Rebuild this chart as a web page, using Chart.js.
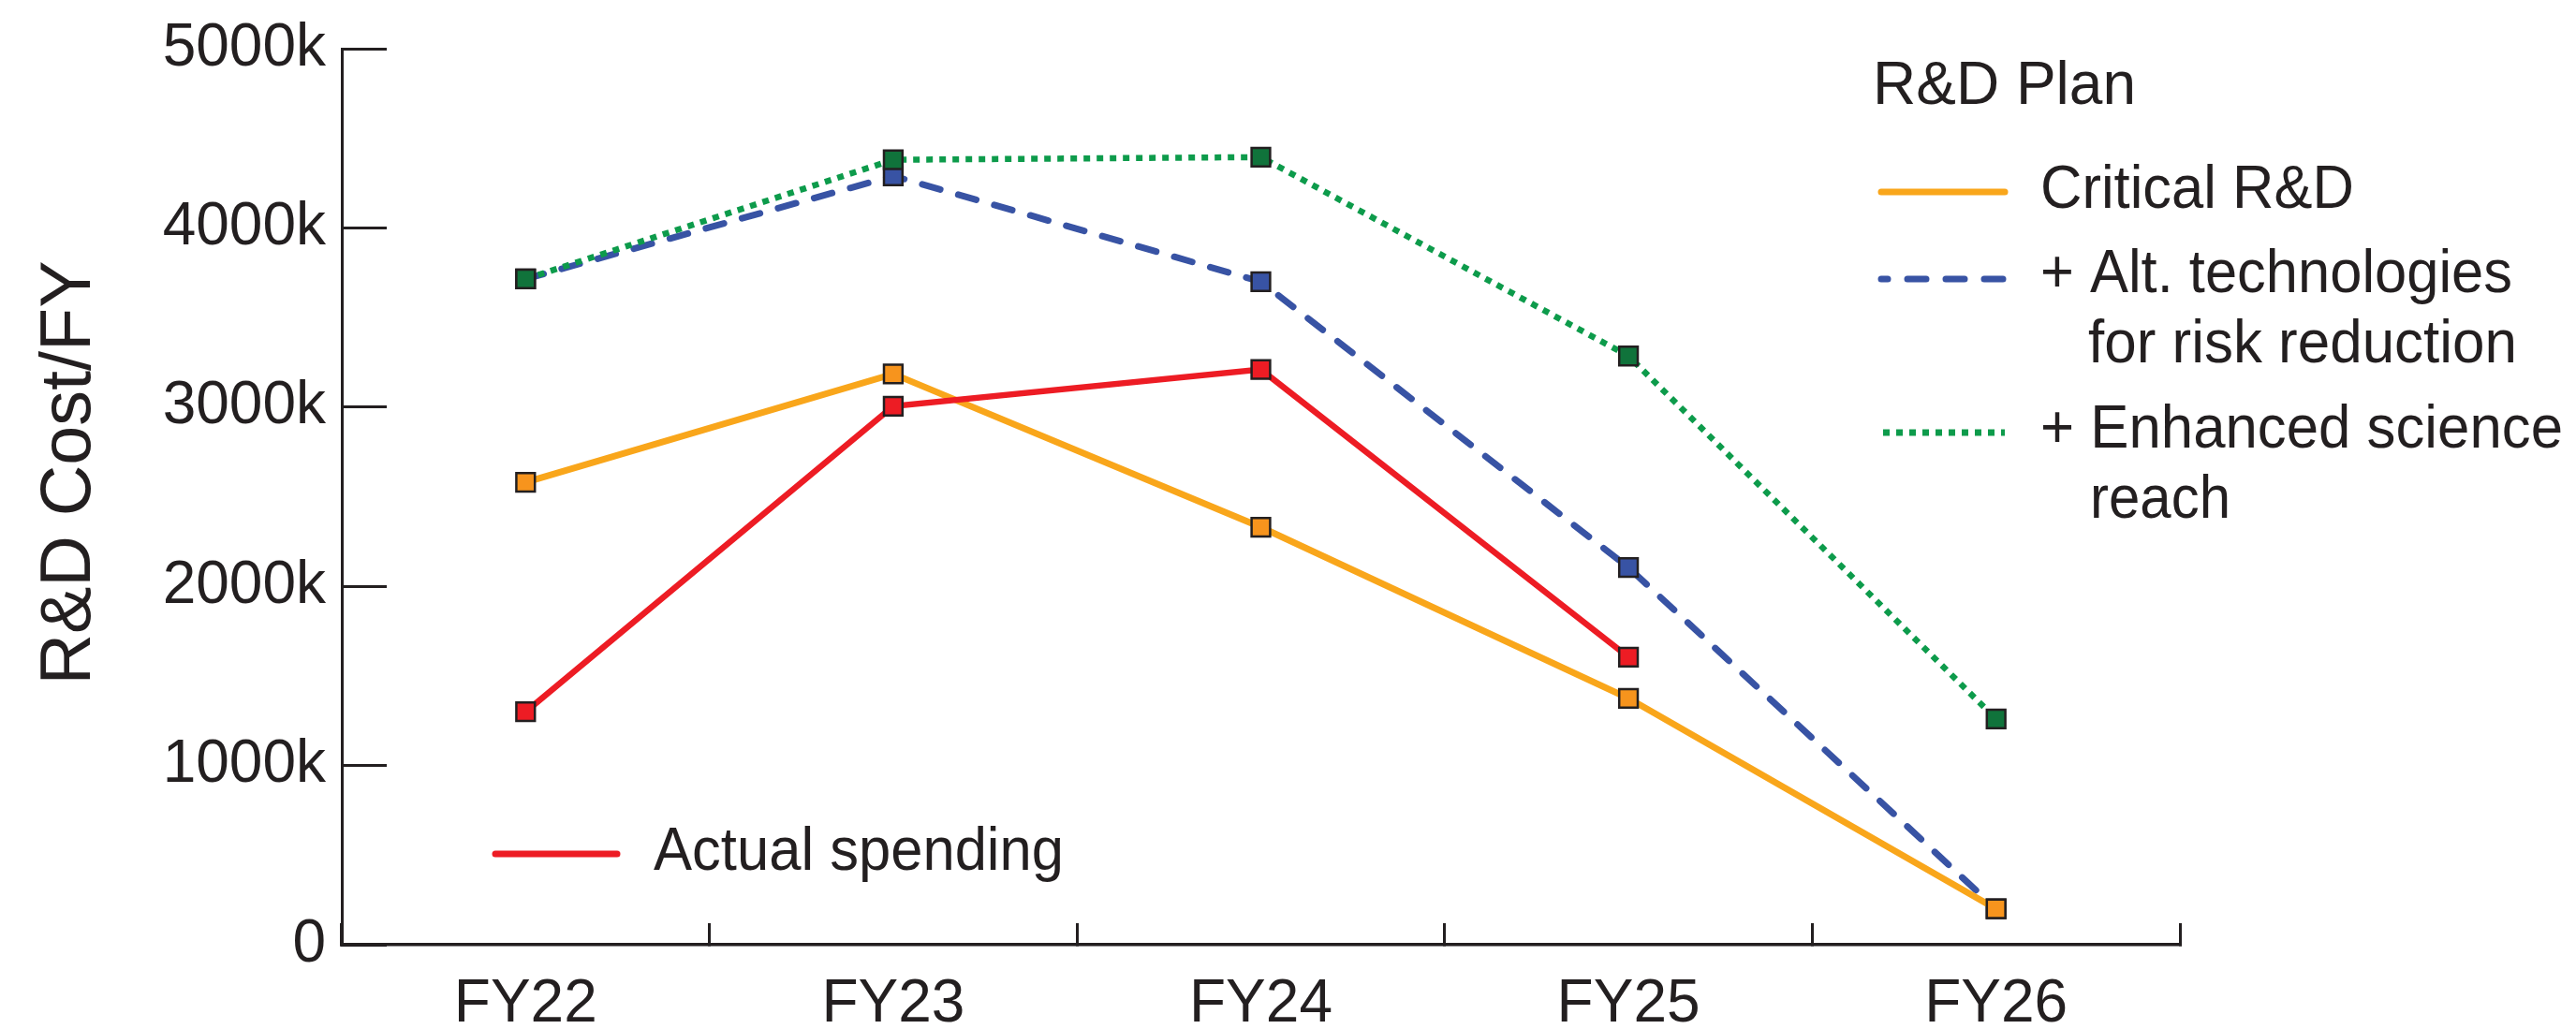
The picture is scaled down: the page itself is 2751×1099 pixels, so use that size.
<!DOCTYPE html>
<html>
<head>
<meta charset="utf-8">
<script src="https://cdn.jsdelivr.net/npm/chart.js@4"></script>
<style>
html, body { margin: 0; padding: 0; background: #ffffff; }
canvas { display: block; }
</style>
</head>
<body>
<canvas id="c" width="2751" height="1099"></canvas>
<script>
// ---- data ----
const categories = ['FY22', 'FY23', 'FY24', 'FY25', 'FY26'];
const criticalRD = [2580, 3185, 2330, 1375, 200];
const altTech = [3715, 4290, 3700, 2105, 200];
const enhancedScience = [3715, 4380, 4395, 3285, 1260];
const actualSpending = [1300, 3005, 3210, 1605, null];
const yTickValues = [0, 1000, 2000, 3000, 4000, 5000];
const yTitle = 'R&D Cost/FY';
const legendTitle = 'R&D Plan';
const legendCritical = ['Critical R&D'];
const legendAlt = ['+ Alt. technologies', 'for risk reduction'];
const legendEnhanced = ['+ Enhanced science', 'reach'];
const legendActual = 'Actual spending';

const FONT = "'Liberation Sans', Arial, sans-serif";
const INK = '#231f20';

const marker = (fill) => ({
  pointStyle: 'rect',
  pointRadius: 14,
  pointHoverRadius: 14,
  pointBackgroundColor: fill,
  pointBorderColor: INK,
  pointBorderWidth: 2.5,
});

const datasets = [
  Object.assign({ label: legendActual, data: actualSpending, borderColor: '#ed1c24', borderWidth: 6.5, order: 0 }, marker('#ed1c24')),
  Object.assign({ label: legendCritical[0], data: criticalRD, borderColor: '#f9a61b', borderWidth: 7, order: 1 }, marker('#f7941d')),
  Object.assign({ label: legendEnhanced.join(' '), data: enhancedScience, borderColor: '#0d9b4b', borderWidth: 6.5, borderDash: [7, 7], borderCapStyle: 'butt', order: 2 }, marker('#10733b')),
  Object.assign({ label: legendAlt.join(' '), data: altTech, borderColor: '#3853a4', borderWidth: 7, borderDash: [20, 20], borderCapStyle: 'round', order: 3 }, marker('#3853a4')),
];

const annotate = {
  id: 'annotate',
  afterDraw(chart) {
    const ctx = chart.ctx;
    const ds = chart.data.datasets;
    ctx.save();
    // y-axis title
    ctx.save();
    ctx.translate(96, 505);
    ctx.rotate(-Math.PI / 2);
    ctx.font = '75.5px ' + FONT;
    ctx.fillStyle = INK;
    ctx.textAlign = 'center';
    ctx.textBaseline = 'alphabetic';
    ctx.fillText(yTitle, 0, 0);
    ctx.restore();

    const sample = (d, x1, x2, y, dash, offset, cap) => {
      ctx.save();
      ctx.strokeStyle = d.borderColor;
      ctx.lineWidth = 7;
      ctx.lineCap = cap;
      ctx.setLineDash(dash);
      ctx.lineDashOffset = offset;
      ctx.beginPath();
      ctx.moveTo(x1, y);
      ctx.lineTo(x2, y);
      ctx.stroke();
      ctx.restore();
    };
    const text = (t, x, y, w) => {
      const m = ctx.measureText(t).width;
      if (m > w) ctx.fillText(t, x, y, w); else ctx.fillText(t, x, y);
    };

    ctx.font = '64px ' + FONT;
    ctx.fillStyle = INK;
    ctx.textAlign = 'left';
    ctx.textBaseline = 'alphabetic';
    text(legendTitle, 2000, 111, 282);

    sample(ds[1], 2009, 2141, 205, [], 0, 'round');
    text(legendCritical[0], 2179, 222, 335);

    sample(ds[3], 2009, 2141, 298, [20, 21], 13, 'round');
    text(legendAlt[0], 2179, 312, 504);
    text(legendAlt[1], 2230, 387, 458);

    sample(ds[2], 2011, 2141, 462, [7, 7], 0, 'butt');
    text(legendEnhanced[0], 2179, 478, 558);
    text(legendEnhanced[1], 2232, 553, 150);

    sample(ds[0], 529, 659, 912, [], 0, 'round');
    text(legendActual, 698, 929, 438);
    ctx.restore();
  }
};

new Chart(document.getElementById('c'), {
  type: 'line',
  data: { labels: categories, datasets: datasets },
  options: {
    responsive: false,
    devicePixelRatio: 1,
    animation: false,
    layout: { padding: { left: 0, right: 423, top: 52, bottom: 0 } },
    plugins: { legend: { display: false }, tooltip: { enabled: false }, title: { display: false } },
    elements: { line: { tension: 0 } },
    scales: {
      x: {
        type: 'category',
        offset: true,
        afterFit(scale) { scale.height = 90; scale.paddingLeft = 0; scale.paddingRight = 0; },
        grid: { offset: true, drawOnChartArea: false, drawTicks: true, tickLength: -23, color: INK, lineWidth: 3 },
        border: { display: true, color: INK, width: 3.5 },
        ticks: { padding: 49, color: INK, font: { family: FONT, size: 64 }, maxRotation: 0, autoSkip: false },
      },
      y: {
        min: 0,
        max: 5000,
        afterFit(scale) { scale.width = 365; scale.paddingTop = 0; scale.paddingBottom = 0; },
        afterBuildTicks(scale) { scale.ticks = yTickValues.map(v => ({ value: v })); },
        grid: { drawOnChartArea: false, drawTicks: true, tickLength: -48, color: INK, lineWidth: 3 },
        border: { display: true, color: INK, width: 3 },
        ticks: {
          padding: 65,
          color: INK,
          font: { family: FONT, size: 64 },
          callback: (v) => (v === 0 ? '0' : v + 'k'),
        },
        title: { display: false },
      },
    },
  },
  plugins: [annotate],
});
</script>
</body>
</html>
